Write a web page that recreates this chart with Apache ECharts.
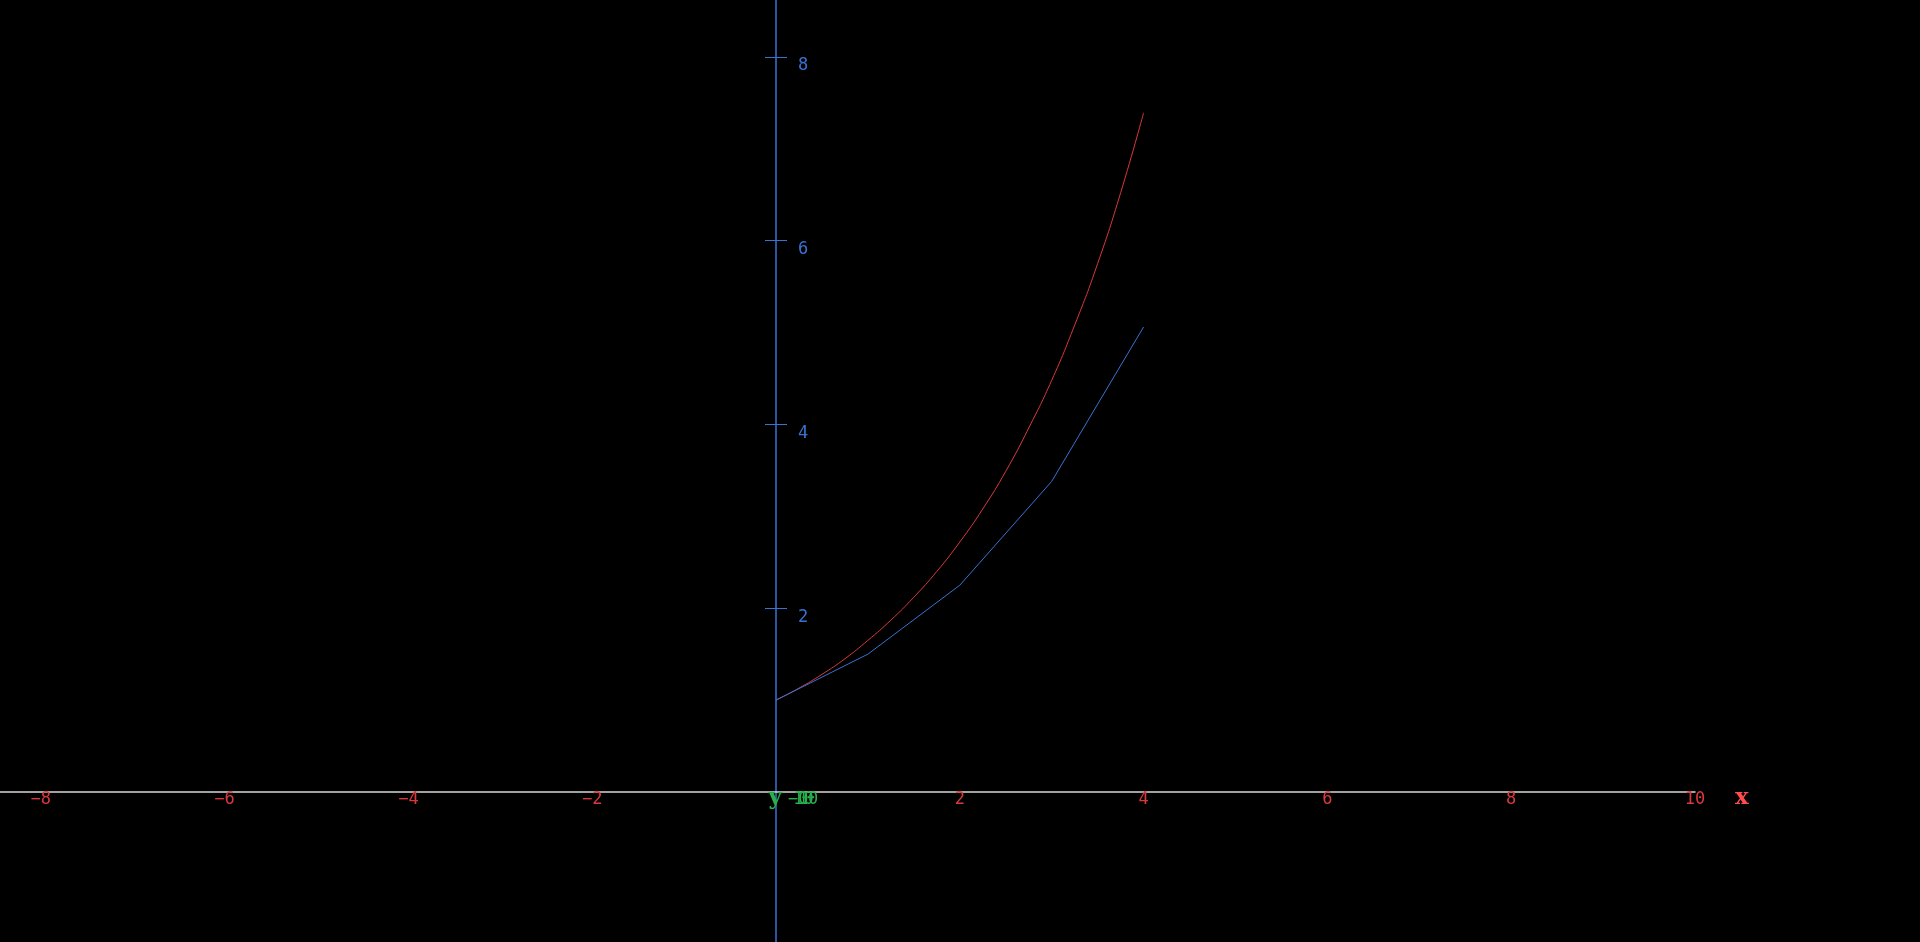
<!DOCTYPE html>
<html>
<head>
<meta charset="utf-8">
<title>Euler vs exact</title>
<script src="https://cdn.jsdelivr.net/npm/echarts@6/dist/echarts.min.js"></script>
<style>
    html, body { margin: 0; padding: 0; background: #000; }
    #chart { width: 1920px; height: 942px; }
</style>
</head>
<body>
<div id="chart"></div>
<script>
// 数据
const exactX = [0, 0.25, 0.5, 0.75, 1, 1.25, 1.5, 1.75, 2, 2.25, 2.5, 2.75, 3, 3.25, 3.5, 3.75, 4];
const exactY = [1.00, 1.13, 1.28, 1.45, 1.65, 1.87, 2.12, 2.40, 2.72, 3.08, 3.49, 3.96, 4.48, 5.08, 5.75, 6.52, 7.39];
const eulerX = [0, 1, 2, 3, 4];
const eulerY = [1, 1.5, 2.25, 3.38, 5.06];
const xTicks = [-8, -6, -4, -2, 2, 4, 6, 8, 10];
const yTicks = [2, 4, 6, 8];
const zTicks = [-10, -5, 0, 5, 10];

const RED = '#d9393b';
const BLUE = '#3a72d4';
const GREEN = '#27b14d';
const MONO = 'DejaVu Sans Mono, monospace';
const SERIF = 'DejaVu Serif, serif';

const zip = (xs, ys) => xs.map((x, i) => [x, ys[i]]);
// 用真正的减号
const minus = v => String(v).replace('-', '\u2212');

const chart = echarts.init(document.getElementById('chart'));

const hidden = { show: false };

chart.setOption({
    backgroundColor: '#000',
    animation: false,
    grid: [
        // 曲线 + x 轴
        { left: 0, right: 225, top: 0, height: 792, outerBoundsMode: 'none', containLabel: false },
        // y 轴
        { left: 776, right: 225, top: 0, bottom: 0, outerBoundsMode: 'none', containLabel: false },
        // 绿色的轴挤在原点附近
        { left: 803, width: 0.5, top: 0, height: 792, outerBoundsMode: 'none', containLabel: false }
    ],
    xAxis: [
        {
            type: 'value',
            gridIndex: 0,
            position: 'bottom',
            min: -8.444,
            max: 10,
            name: 'x',
            nameGap: 40,
            nameTextStyle: {
                color: '#ff4d4d', fontSize: 23, fontWeight: 'bold', fontFamily: SERIF,
                verticalAlign: 'top', lineHeight: 12
            },
            axisLine: { onZero: false, lineStyle: { color: '#d8d8d8', width: 1.5 } },
            axisTick: hidden,
            axisLabel: { customValues: xTicks, formatter: minus, color: RED, fontSize: 17, fontFamily: MONO, margin: -1, hideOverlap: false },
            splitLine: hidden
        },
        {
            type: 'value',
            gridIndex: 1,
            min: 0,
            max: 10,
            show: false
        },
        {
            type: 'value',
            gridIndex: 2,
            position: 'bottom',
            min: -10,
            max: 10,
            name: 'y',
            nameLocation: 'start',
            nameGap: 20,
            nameTextStyle: {
                color: GREEN, fontSize: 23, fontWeight: 'bold', fontFamily: SERIF,
                verticalAlign: 'top', lineHeight: 12
            },
            axisLine: { show: false, onZero: false },
            axisTick: hidden,
            axisLabel: {
                customValues: zTicks, formatter: minus, color: GREEN, fontSize: 17, fontFamily: MONO,
                margin: -1, hideOverlap: false, showMinLabel: true, showMaxLabel: true
            },
            splitLine: hidden
        }
    ],
    yAxis: [
        {
            type: 'value',
            gridIndex: 0,
            min: 0,
            max: 8.618,
            show: false
        },
        {
            type: 'value',
            gridIndex: 1,
            position: 'left',
            min: -1.632,
            max: 8.618,
            axisLine: { onZero: false, lineStyle: { color: BLUE, width: 1.5 } },
            axisTick: { show: true, length: 11, customValues: yTicks, lineStyle: { color: BLUE } },
            axisLabel: {
                customValues: yTicks, inside: true, margin: 22, color: BLUE,
                fontSize: 17, fontFamily: MONO, verticalAlign: 'top', lineHeight: 18, hideOverlap: false
            },
            splitLine: hidden
        },
        {
            // 刻度的另一半
            type: 'value',
            gridIndex: 1,
            position: 'left',
            offset: 0,
            min: -1.632,
            max: 8.618,
            axisLine: { show: false, onZero: false },
            axisTick: { show: true, inside: true, length: 11, customValues: yTicks, lineStyle: { color: BLUE } },
            axisLabel: hidden,
            splitLine: hidden
        },
        {
            type: 'value',
            gridIndex: 2,
            show: false
        }
    ],
    series: [
        {
            type: 'line',
            xAxisIndex: 0,
            yAxisIndex: 0,
            data: zip(exactX, exactY),
            smooth: true,
            showSymbol: false,
            lineStyle: { color: RED, width: 1 }
        },
        {
            type: 'line',
            xAxisIndex: 0,
            yAxisIndex: 0,
            data: zip(eulerX, eulerY),
            showSymbol: false,
            lineStyle: { color: BLUE, width: 1 }
        }
    ]
});
</script>
</body>
</html>
